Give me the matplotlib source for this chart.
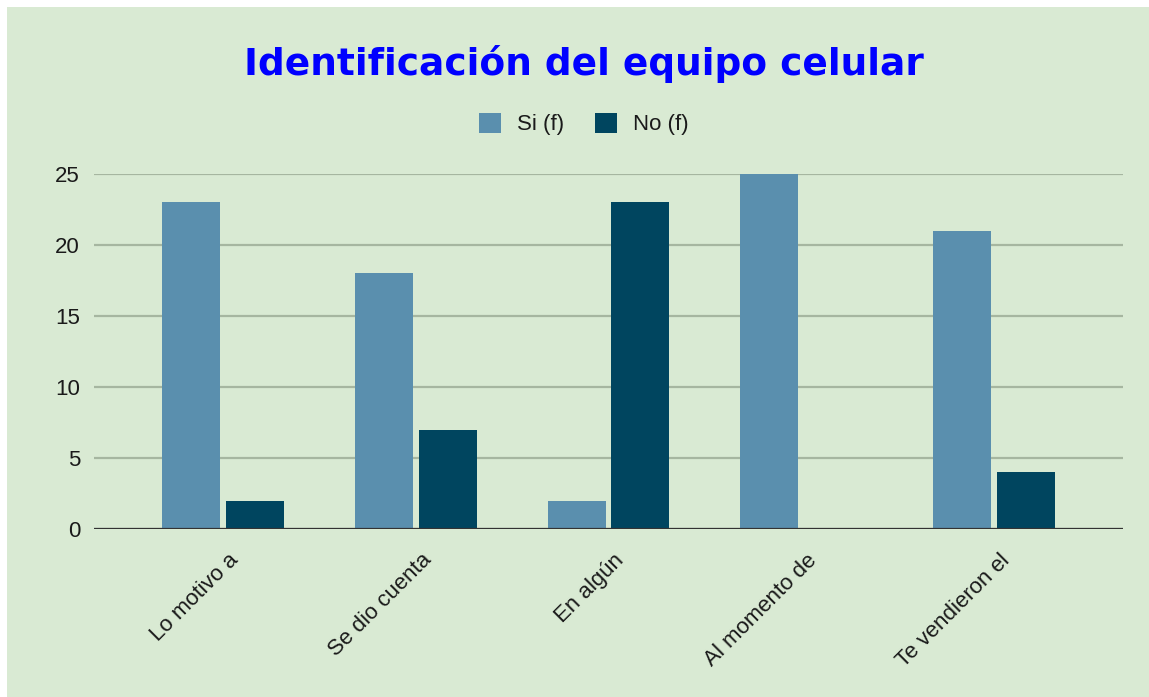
import numpy as np
import matplotlib.pyplot as plt
import matplotlib.transforms as mtransforms
from matplotlib.patches import Rectangle

# data
categories = ['Lo motivo a', 'Se dio cuenta', 'En algún', 'Al momento de', 'Te vendieron el']
si_values = [23, 18, 2, 25, 21]
no_values = [2, 7, 23, 0, 4]
y_ticks = [0, 5, 10, 15, 20, 25]

bg = '#d9ead3'
si_color = '#5a8fae'
no_color = '#00455f'

plt.rcParams['font.family'] = ['Liberation Sans', 'DejaVu Sans']

fig = plt.figure(figsize=(11.49, 6.97), dpi=100)
fig.patch.set_facecolor('white')
# green chart card, white strip on top and left
fig.patches.append(Rectangle((7 / 1149, 0), 1, 1 - 7 / 697, transform=fig.transFigure,
                             facecolor=bg, edgecolor='none', zorder=-10))

ax = fig.add_axes([94 / 1149, 1 - 529 / 697, (1123 - 94) / 1149, (529 - 174) / 697])
ax.set_facecolor(bg)

x = np.arange(len(categories))
w = 0.30
ax.bar(x - 0.165, si_values, w, color=si_color, label='Si (f)', zorder=3)
ax.bar(x + 0.165, no_values, w, color=no_color, label='No (f)', zorder=3)

ax.set_xlim(-0.67, 4.67)
ax.set_ylim(0, 25)
ax.set_yticks(y_ticks)
ax.yaxis.grid(True, color='#a6b6a0', linewidth=1.6, zorder=1)
ax.axhline(0, color='#333333', linewidth=1.6, zorder=4)
for s in ax.spines.values():
    s.set_visible(False)
ax.tick_params(axis='y', length=0, pad=10, labelsize=16, labelcolor='#1a1a1a')
ax.tick_params(axis='x', length=0, pad=15, labelsize=16, labelcolor='#1a1a1a')

ax.set_xticks(x)
ax.set_xticklabels(categories, rotation=45, ha='right', va='top', rotation_mode='anchor')
offset = mtransforms.ScaledTranslation(5 / 100, 0, fig.dpi_scale_trans)
for lbl in ax.get_xticklabels():
    lbl.set_transform(lbl.get_transform() + offset)

fig.text(0.508, 1 - 64 / 697, 'Identificación del equipo celular', ha='center', va='center',
         fontsize=27, fontweight='heavy', color='#0000ff', family='DejaVu Sans')

fig.legend(loc='center', bbox_to_anchor=(0.508, 1 - 124 / 697), ncol=2, frameon=False,
           fontsize=16, handlelength=1.0, handleheight=1.0, columnspacing=1.4,
           handletextpad=0.7, labelcolor='#1a1a1a')

fig.savefig('out.png', dpi=100, facecolor=fig.get_facecolor())
